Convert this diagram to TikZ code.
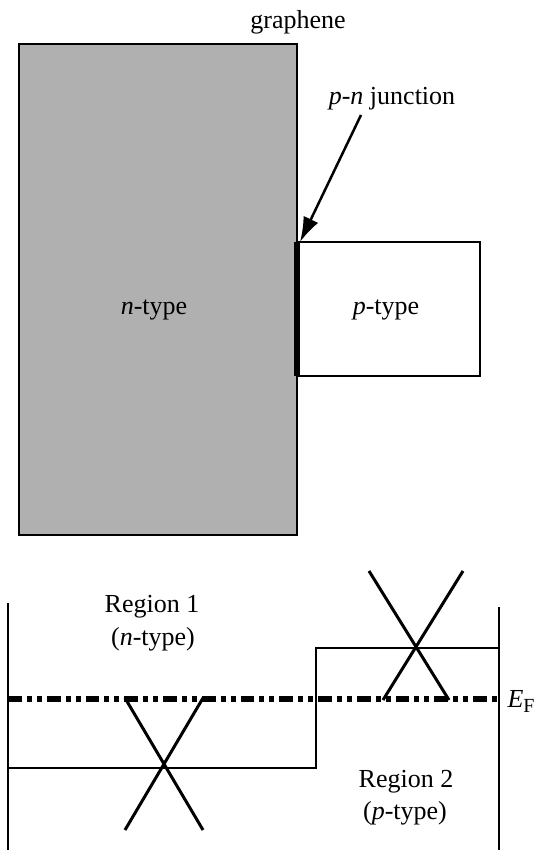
\documentclass[tikz,border=0pt]{standalone}
\usepackage{fontspec}
\setmainfont{Liberation Serif}
\usepackage{xcolor}
\usepackage{tikz}
\usetikzlibrary{arrows.meta,positioning,calc}
\definecolor{sheetgray}{RGB}{176,176,176}
\tikzset{
  lbl/.style={inner sep=0pt, align=center},
  level/.style={line width=0.8pt},
  cone/.style={line width=1.2pt},
  fermi/.style={line width=2.2pt, dash pattern=on 5.5pt off 2pt on 2pt off 2pt on 2pt off 2pt}
}

\begin{document}
\begin{tikzpicture}[x=0.4pt, y=-0.4pt, font=\fontsize{10.4}{12}\selectfont]
\useasboundingbox (0,0) rectangle (537,850);
% device sketch
\draw[fill=sheetgray, line width=1pt] (19,44) rectangle (297,535);
\draw[fill=white, line width=1pt] (297,242) rectangle (480,376);
\coordinate (jtop) at (297,242);
\coordinate (jbot) at (297,376);
\draw[line width=2.4pt] (jtop) -- (jbot);
\node[lbl] (graph) at (298,22) {graphene};
\node[lbl] (ntype) at (154,310) {\textit{n}-type};
\node[lbl] (ptype) at (386,310) {\textit{p}-type};
\node[lbl] (pn) at (392,99) {\textit{p}-\textit{n} junction};
\coordinate (arrS) at (361,115);
\draw[line width=1pt, -{Latex[length=10pt,width=6.5pt]}] (arrS) -- ($(jtop)+(3,0)$);
% band diagram
\coordinate (lt) at (8,603);
\coordinate (lb) at (8,850);
\coordinate (rt) at (499,607);
\coordinate (rb) at (499,850);
\draw[level] (lt) -- (lb);
\draw[level] (rt) -- (rb);
\coordinate (efL) at (8,699);
\coordinate (efR) at (499,699);
\draw[fermi] (efL) -- (efR);
\node[lbl, anchor=west] (ef) at (507,701) {\textit{E}{\fontsize{8}{9}\selectfont\raisebox{-0.25em}{F}}};
% Dirac points and step
\coordinate (d1) at (164,768);
\coordinate (d2) at (416,648);
\draw[level] (8,768) -- (d1) -- (316,768) -- (316,648) -- (d2) -- (500,648);
\draw[cone] ($(d1)+(-39,-70)$) -- ($(d1)+(39,62)$);
\draw[cone] ($(d1)+(39,-70)$) -- ($(d1)+(-39,62)$);
\draw[cone] ($(d2)+(-47,-77)$) -- ($(d2)+(33,52)$);
\draw[cone] ($(d2)+(47,-77)$) -- ($(d2)+(-33,52)$);
\node[lbl] (reg1) at (152,607) {Region 1};
\node[lbl] (reg1t) at (153,639) {(\textit{n}-type)};
\node[lbl] (reg2) at (406,782) {Region 2};
\node[lbl] (reg2t) at (405,813) {(\textit{p}-type)};
\end{tikzpicture}
\end{document}
